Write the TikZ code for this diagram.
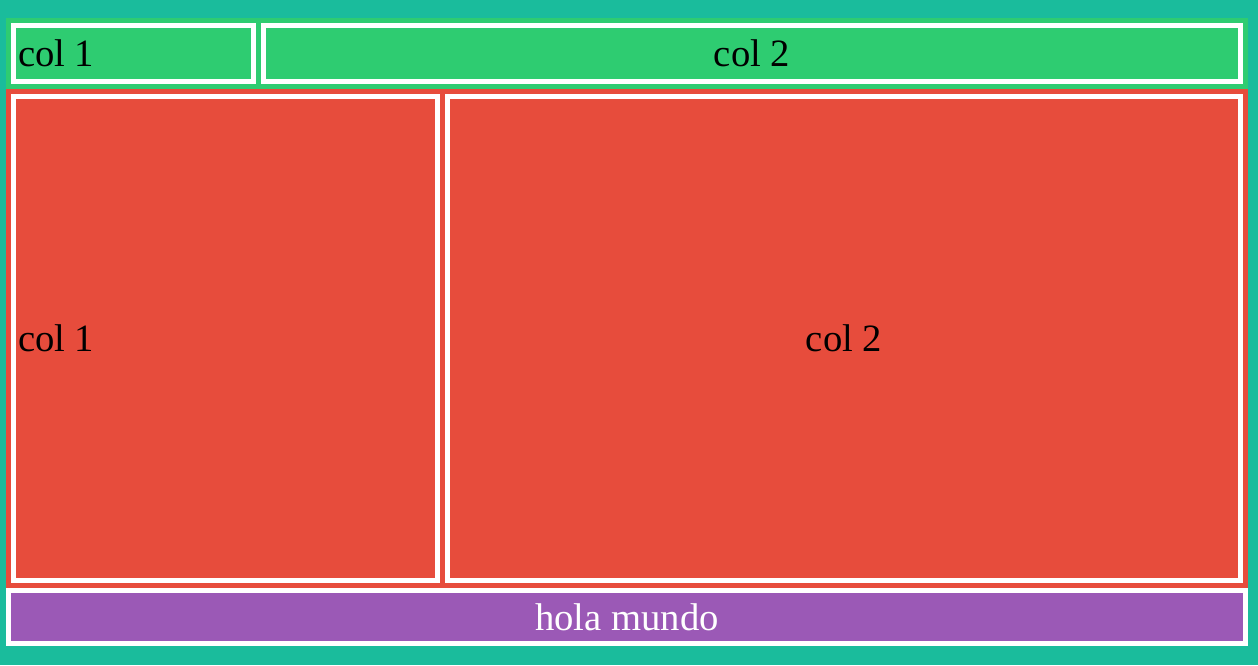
\documentclass[tikz,border=0pt]{standalone}
\usepackage{fontspec}
\setmainfont{Liberation Serif}
\definecolor{turquoise}{HTML}{1ABC9C}
\definecolor{emerald}{HTML}{2ECC71}
\definecolor{alizarin}{HTML}{E74C3C}
\definecolor{amethyst}{HTML}{9B59B6}
\tikzset{
	cell/.style={draw=white, line width=3.75pt, inner xsep=3.375pt, inner ysep=0pt,
		text height=25.84pt, text depth=6.26pt, font=\fontsize{29}{35}\selectfont},
	leftcell/.style={cell, align=flush left, text width=#1},
}
\begin{document}
\begin{tikzpicture}[x=0.75pt, y=-0.75pt]
			% page
			\fill[turquoise] (0,0) rectangle (1258,665);
			\useasboundingbox (0,0) rectangle (1258,665);
			% top row
			\fill[emerald] (6,18) rectangle (1248,89);
			\node[leftcell=173.25pt, fill=emerald, minimum width=180pt, minimum height=42pt] (topA) at (133.5,53.5) {col 1};
			\node[cell, fill=emerald, minimum width=732.75pt, minimum height=42pt] (topB) at (752,53.5) {col 2};
			% middle row
			\fill[alizarin] (6,89) rectangle (1248,588);
			\node[leftcell=311.25pt, fill=alizarin, minimum width=318pt, minimum height=363pt] (midA) at (225.5,338.5) {col 1};
			\node[cell, fill=alizarin, minimum width=594.75pt, minimum height=363pt] (midB) at (844,338.5) {col 2};
			% footer
			\node[cell, fill=amethyst, text=white, minimum width=927.75pt, minimum height=39.75pt] (foot) at (627,617) {hola mundo};
\end{tikzpicture}
\end{document}
